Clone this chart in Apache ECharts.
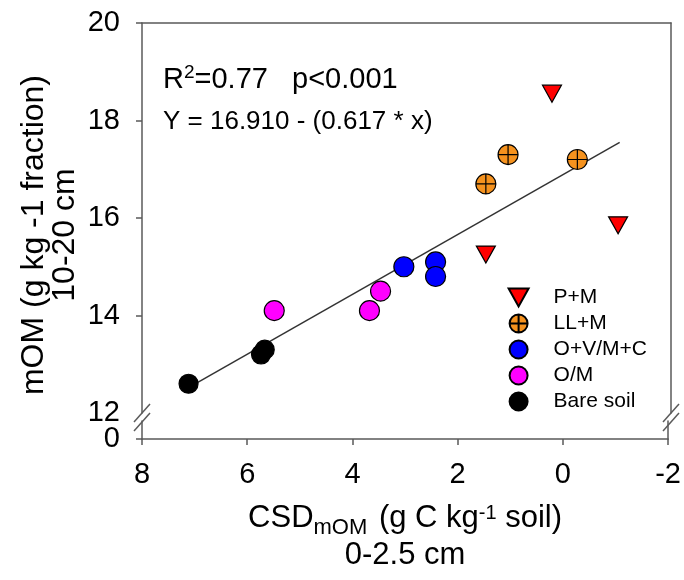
<!DOCTYPE html>
<html>
<head>
<meta charset="utf-8">
<script src="https://cdn.jsdelivr.net/npm/echarts@6/dist/echarts.min.js"></script>
<style>
html,body{margin:0;padding:0;background:#fff;}
#c{width:684px;height:580px;}
</style>
</head>
<body>
<div id="c"></div>
<script>
// ---- data ----
var seriesNames = ['P+M', 'LL+M', 'O+V/M+C', 'O/M', 'Bare soil'];
var pmX = [0.25, 1.5, -1.0];
var pmY = [18.55, 15.25, 15.85];
var llX = [1.5, 1.08, -0.23];
var llY = [16.7, 17.3, 17.2];
var ovX = [3.05, 2.45, 2.45];
var ovY = [15.0, 15.1, 14.8];
var omX = [5.5, 3.7, 3.49];
var omY = [14.1, 14.1, 14.5];
var bsX = [7.12, 5.75, 5.68];
var bsY = [12.6, 13.2, 13.3];
var fitX = [7.12, -1.03];
var fitY = [12.52, 17.55];
var xTicks = [-2, 0, 2, 4, 6, 8];
var yTicksUpper = [12, 14, 16, 18, 20];
var yTickMarksUpper = [14, 16, 18, 20];
var yTicksLower = [0];
var statText = ['R', '2', '=0.77   p<0.001'];
var eqText = 'Y = 16.910 - (0.617 * x)';
var yTitle = ['mOM (g kg -1 fraction)', '10-20 cm'];

function pairs(xs, ys) { return xs.map(function (x, i) { return [x, ys[i]]; }); }

var FONT = '"Liberation Sans", Arial, Helvetica, sans-serif';
var AX = '#5a5a5a';
var G = { left: 142, right: 13, top1: 23, h1: 390, top2: 421, h2: 18 };

var chart = echarts.init(document.getElementById('c'), null, { renderer: 'canvas' });

var crossCircle = 'path://M10,0 A10,10 0 1,1 -10,0 A10,10 0 1,1 10,0 Z M0,-10 L0,10 M-10,0 L10,0';
var triDown = 'path://M0,0 L20,0 L10,18 Z';

var hiddenLine = { show: true, onZero: false, lineStyle: { color: AX, width: 1.5 } };

var option = {
  backgroundColor: '#fff',
  animation: false,
  textStyle: { fontFamily: FONT },
  grid: [
    { left: G.left, right: G.right, top: G.top1, height: G.h1 },
    { left: G.left, right: G.right, top: G.top2, height: G.h2 }
  ],
  xAxis: [
    { gridIndex: 0, type: 'value', position: 'top', min: xTicks[0], max: xTicks[xTicks.length - 1], interval: 2, inverse: true,
      axisLine: hiddenLine, axisTick: { show: false }, axisLabel: { show: false }, splitLine: { show: false } },
    { gridIndex: 1, type: 'value', position: 'bottom', min: xTicks[0], max: xTicks[xTicks.length - 1], interval: 2, inverse: true,
      axisLine: hiddenLine,
      axisTick: { show: true, length: 6, lineStyle: { color: AX, width: 1.5 } },
      axisLabel: { show: true, margin: 21, fontSize: 29, color: '#000', fontFamily: FONT },
      splitLine: { show: false },
      name: '{n|CSD}{sub|mOM}{n| (g C kg}{sup|-1}{n| soil)}\n{m|0-2.5 cm}',
      nameLocation: 'middle', nameGap: 64,
      nameTextStyle: { color: '#000', fontFamily: FONT, fontSize: 31, lineHeight: 34,
        rich: {
          n: { fontSize: 31, lineHeight: 34, verticalAlign: 'top', color: '#000', fontFamily: FONT },
          sub: { fontSize: 22, lineHeight: 6, verticalAlign: 'top', color: '#000', fontFamily: FONT, padding: [14, 3, 0, 0] },
          sup: { fontSize: 20, lineHeight: 16, verticalAlign: 'top', color: '#000', fontFamily: FONT },
          m: { fontSize: 31, lineHeight: 36, color: '#000', fontFamily: FONT }
        } } }
  ],
  yAxis: [
    { gridIndex: 0, type: 'value', position: 'left', min: 12, max: 20, interval: 2,
      axisLine: hiddenLine,
      axisTick: { show: true, length: 6, customValues: yTickMarksUpper, lineStyle: { color: AX, width: 1.5 } },
      axisLabel: { show: true, margin: 22, fontSize: 29, color: '#000', fontFamily: FONT, customValues: yTicksUpper },
      splitLine: { show: false } },
    { gridIndex: 0, type: 'value', position: 'right', min: 12, max: 20,
      axisLine: hiddenLine, axisTick: { show: false }, axisLabel: { show: false }, splitLine: { show: false } },
    { gridIndex: 1, type: 'value', position: 'left', min: 0, max: 1,
      axisLine: hiddenLine,
      axisTick: { show: true, length: 6, customValues: yTicksLower, lineStyle: { color: AX, width: 1.5 } },
      axisLabel: { show: true, margin: 22, fontSize: 29, color: '#000', fontFamily: FONT, customValues: yTicksLower },
      splitLine: { show: false } },
    { gridIndex: 1, type: 'value', position: 'right', min: 0, max: 1,
      axisLine: hiddenLine, axisTick: { show: false }, axisLabel: { show: false }, splitLine: { show: false } }
  ],
  legend: {
    orient: 'vertical', left: 507.6, top: 287, padding: 0, itemWidth: 20, itemHeight: 18, itemGap: 5,
    data: [
      { name: seriesNames[0], icon: triDown },
      { name: seriesNames[1], icon: crossCircle },
      { name: seriesNames[2], icon: 'circle' },
      { name: seriesNames[3], icon: 'circle' },
      { name: seriesNames[4], icon: 'circle' }
    ],
    selectedMode: false,
    textStyle: { fontSize: 21, lineHeight: 20, color: '#000', fontFamily: FONT, padding: [0, 0, 0, 20] }
  },
  series: [
    { name: 'fit', type: 'line', xAxisIndex: 0, yAxisIndex: 0, data: pairs(fitX, fitY), showSymbol: false, silent: true,
      lineStyle: { color: '#333', width: 1.5 }, z: 1 },
    { name: seriesNames[0], type: 'scatter', xAxisIndex: 0, yAxisIndex: 0, data: pairs(pmX, pmY),
      symbol: 'triangle', symbolRotate: 180, symbolSize: [19, 17],
      itemStyle: { color: '#ff0000', borderColor: '#000', borderWidth: 1.2, opacity: 1 }, z: 3 },
    { name: seriesNames[1], type: 'scatter', xAxisIndex: 0, yAxisIndex: 0, data: pairs(llX, llY),
      symbol: crossCircle, symbolSize: 20,
      itemStyle: { color: '#f5921e', borderColor: '#000', borderWidth: 1.2, opacity: 1 }, z: 3 },
    { name: seriesNames[2], type: 'scatter', xAxisIndex: 0, yAxisIndex: 0, data: pairs(ovX, ovY),
      symbol: 'circle', symbolSize: 20,
      itemStyle: { color: '#0000ff', borderColor: '#000', borderWidth: 1.2, opacity: 1 }, z: 3 },
    { name: seriesNames[3], type: 'scatter', xAxisIndex: 0, yAxisIndex: 0, data: pairs(omX, omY),
      symbol: 'circle', symbolSize: 20,
      itemStyle: { color: '#ff00ff', borderColor: '#000', borderWidth: 1.2, opacity: 1 }, z: 3 },
    { name: seriesNames[4], type: 'scatter', xAxisIndex: 0, yAxisIndex: 0, data: pairs(bsX, bsY),
      symbol: 'circle', symbolSize: 19,
      itemStyle: { color: '#000', borderColor: '#000', borderWidth: 1.2, opacity: 1 }, z: 3 }
  ]
};
chart.setOption(option);

// axis-break marks, axis title and annotation text
var xL = G.left, xR = 684 - G.right;
function slashes(x) {
  return [
    { type: 'line', shape: { x1: x - 8, y1: 422, x2: x + 8, y2: 404 }, style: { stroke: AX, lineWidth: 1.5 }, z: 10 },
    { type: 'line', shape: { x1: x - 8, y1: 431, x2: x + 8, y2: 413 }, style: { stroke: AX, lineWidth: 1.5 }, z: 10 }
  ];
}
chart.setOption({
  graphic: slashes(xL).concat(slashes(xR)).concat([
    { type: 'text', x: 50, y: 235, rotation: Math.PI / 2, z: 10,
      style: { text: yTitle.join('\n'), fill: '#000', font: '32px ' + FONT, lineHeight: 31, align: 'center', verticalAlign: 'middle' } },
    { type: 'text', left: 163, top: 63, z: 10,
      style: { text: '{a|' + statText[0] + '}{s|' + statText[1] + '}{a|' + statText[2] + '}', fill: '#000', font: '29px ' + FONT,
        rich: { a: { fontSize: 29, lineHeight: 34, fontFamily: FONT, fill: '#000' },
                s: { fontSize: 19, lineHeight: 14, verticalAlign: 'top', fontFamily: FONT, fill: '#000' } } } },
    { type: 'text', left: 163, top: 109, z: 10,
      style: { text: '{a|' + eqText + '}', fill: '#000', font: '26px ' + FONT,
        rich: { a: { fontSize: 26, lineHeight: 30, fontFamily: FONT, fill: '#000' } } } }
  ])
});
</script>
</body>
</html>
